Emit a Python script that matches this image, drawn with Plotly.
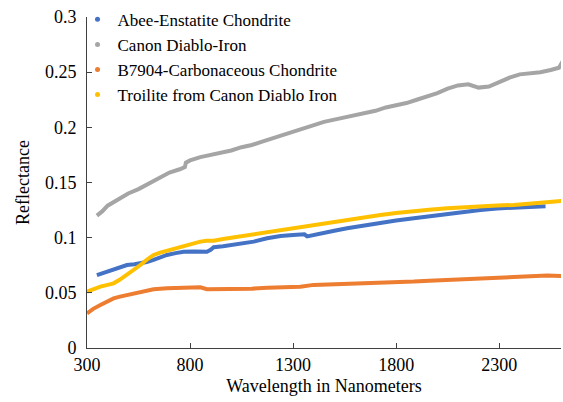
import plotly.graph_objects as go

# Wavelength (nm) and reflectance readings for each sample
abee_wl = [348, 380, 413, 450, 494, 530, 559, 590, 623, 655, 688, 730, 769, 820, 882, 900, 915, 960, 1012, 1060, 1109, 1174, 1239, 1300, 1335, 1355, 1368, 1400, 1433, 1500, 1562, 1640, 1724, 1800, 1886, 1960, 2048, 2130, 2209, 2290, 2371, 2430, 2484, 2525]
abee_r = [0.066, 0.068, 0.0707, 0.073, 0.0752, 0.0760, 0.0768, 0.0780, 0.0798, 0.0820, 0.0843, 0.0860, 0.0873, 0.0875, 0.0873, 0.0890, 0.0913, 0.0922, 0.0934, 0.0950, 0.0964, 0.0994, 0.1015, 0.1025, 0.1033, 0.1030, 0.1012, 0.1022, 0.1040, 0.1062, 0.1085, 0.1110, 0.1136, 0.1155, 0.1176, 0.1195, 0.1215, 0.1233, 0.1251, 0.1265, 0.1275, 0.1282, 0.1287, 0.1285]

canon_wl = [348, 375, 400, 450, 500, 550, 600, 650, 700, 750, 775, 780, 800, 850, 900, 950, 1000, 1050, 1100, 1150, 1200, 1250, 1300, 1350, 1400, 1450, 1500, 1550, 1600, 1650, 1700, 1750, 1800, 1850, 1900, 1950, 2000, 2050, 2100, 2150, 2200, 2250, 2300, 2350, 2400, 2450, 2500, 2550, 2590, 2615]
canon_r = [0.120, 0.124, 0.129, 0.135, 0.140, 0.144, 0.149, 0.154, 0.159, 0.162, 0.164, 0.168, 0.170, 0.173, 0.175, 0.177, 0.179, 0.182, 0.184, 0.187, 0.190, 0.193, 0.196, 0.199, 0.202, 0.205, 0.207, 0.209, 0.211, 0.213, 0.215, 0.218, 0.220, 0.222, 0.225, 0.228, 0.231, 0.235, 0.238, 0.239, 0.236, 0.237, 0.241, 0.245, 0.248, 0.249, 0.250, 0.252, 0.254, 0.262]

b7904_wl = [300, 330, 365, 400, 429, 460, 494, 525, 559, 590, 623, 688, 760, 850, 882, 950, 1012, 1100, 1174, 1239, 1335, 1400, 1480, 1562, 1640, 1724, 1800, 1886, 1960, 2048, 2130, 2209, 2290, 2371, 2450, 2533, 2615]
b7904_r = [0.0314, 0.0355, 0.0390, 0.0425, 0.0450, 0.0466, 0.0480, 0.0496, 0.0510, 0.0522, 0.0532, 0.0541, 0.0545, 0.0550, 0.0533, 0.0532, 0.0532, 0.0538, 0.0547, 0.0551, 0.0556, 0.0572, 0.0576, 0.0581, 0.0588, 0.0596, 0.0598, 0.0602, 0.0610, 0.0617, 0.0624, 0.0632, 0.0640, 0.0647, 0.0652, 0.0656, 0.0653]

troilite_wl = [300, 330, 365, 400, 429, 460, 494, 525, 559, 590, 623, 655, 688, 730, 769, 810, 850, 880, 915, 960, 1012, 1060, 1109, 1206, 1300, 1400, 1480, 1562, 1640, 1724, 1800, 1886, 1960, 2048, 2130, 2209, 2290, 2371, 2450, 2533, 2615]
troilite_r = [0.051, 0.0535, 0.0556, 0.0572, 0.0586, 0.0620, 0.0662, 0.0705, 0.0752, 0.0800, 0.0843, 0.0865, 0.0882, 0.0905, 0.0925, 0.0945, 0.0964, 0.0972, 0.0973, 0.0988, 0.1003, 0.1018, 0.1033, 0.1063, 0.1090, 0.1115, 0.1138, 0.1160, 0.1183, 0.1206, 0.1224, 0.1242, 0.1254, 0.1266, 0.1277, 0.1287, 0.1292, 0.1296, 0.1310, 0.1326, 0.1335]

names = ["Abee-Enstatite Chondrite", "Canon Diablo-Iron", "B7904-Carbonaceous Chondrite", "Troilite from Canon Diablo Iron"]
colors = ["#4472C4", "#A5A5A5", "#ED7D31", "#FFC000"]
series = [(abee_wl, abee_r), (canon_wl, canon_r), (b7904_wl, b7904_r), (troilite_wl, troilite_r)]

x_ticks = [300, 800, 1300, 1800, 2300]
y_ticks = [0, 0.05, 0.1, 0.15, 0.2, 0.25, 0.3]
y_tick_text = ["0", "0.05", "0.1", "0.15", "0.2", "0.25", "0.3"]

FONT = "Liberation Serif"

fig = go.Figure()
for (wl, r), name, c in zip(series, names, colors):
    fig.add_trace(go.Scatter(x=wl, y=r, mode="lines", line=dict(color=c, width=4),
                             name=name, showlegend=False, hoverinfo="x+y"))
for name, c in zip(names, colors):
    fig.add_trace(go.Scatter(x=[None], y=[None], mode="markers",
                             marker=dict(color=c, size=5), name=name, showlegend=True))

axis_col = "#404040"
fig.update_layout(
    width=563, height=402,
    margin=dict(l=87, r=2, t=17, b=54),
    paper_bgcolor="white", plot_bgcolor="white",
    font=dict(family=FONT, size=18, color="#000000"),
    showlegend=True,
    legend=dict(x=-0.02, y=1.046, xanchor="left", yanchor="top",
                bgcolor="rgba(0,0,0,0)", font=dict(family=FONT, size=17, color="#000000"),
                tracegroupgap=0, itemsizing="trace"),
    xaxis=dict(range=[300, 2600], tickvals=x_ticks, ticks="inside", ticklen=5,
               tickcolor=axis_col, showline=True, linecolor=axis_col, linewidth=1,
               showgrid=False, zeroline=False,
               title=dict(text="Wavelength in Nanometers", standoff=5,
                          font=dict(family=FONT, size=18))),
    yaxis=dict(range=[0, 0.3], tickvals=y_ticks, ticktext=y_tick_text, ticks="inside",
               ticklen=5, tickcolor=axis_col, showline=True, linecolor=axis_col,
               linewidth=1, showgrid=False, zeroline=False, ticklabelstandoff=6,
               title=dict(text="Reflectance", standoff=10,
                          font=dict(family=FONT, size=18))),
)

fig.write_html("out.html")
